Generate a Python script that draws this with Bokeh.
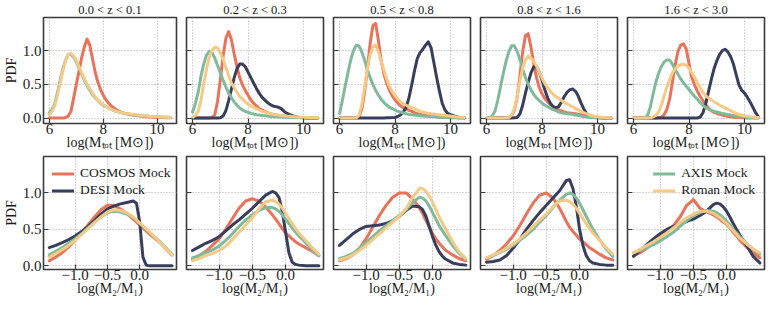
from bokeh.plotting import figure
from bokeh.layouts import row, column
from bokeh.models import (FixedTicker, CustomJSTickFormatter, NumeralTickFormatter,
                          Range1d, Legend, LegendItem)
from bokeh.embed import file_html
from bokeh.resources import INLINE

# ---------------- data ----------------
z_bins = ["0.0 < z < 0.1", "0.2 < z < 0.3", "0.5 < z < 0.8", "0.8 < z < 1.6", "1.6 < z < 3.0"]
series_names = ["COSMOS Mock", "DESI Mock", "AXIS Mock", "Roman Mock"]

mtot_ticks = [6, 8, 10]
ratio_ticks = [-1.0, -0.5, 0.0]
pdf_ticks = [0.0, 0.5, 1.0]

# log(M_tot) grid, 6.0 ... 10.5 in 0.1 steps
mtot_grid = [6.0, 6.1, 6.2, 6.3, 6.4, 6.5, 6.6, 6.7, 6.8, 6.9,
             7.0, 7.1, 7.2, 7.3, 7.4, 7.5, 7.6, 7.7, 7.8, 7.9,
             8.0, 8.1, 8.2, 8.3, 8.4, 8.5, 8.6, 8.7, 8.8, 8.9,
             9.0, 9.1, 9.2, 9.3, 9.4, 9.5, 9.6, 9.7, 9.8, 9.9,
             10.0, 10.1, 10.2, 10.3, 10.4, 10.5]

# log(M2/M1) grid
ratio_grid = [-1.4, -1.3, -1.2, -1.1, -1.0, -0.9, -0.8, -0.7, -0.6, -0.5, -0.4, -0.3,
              -0.2, -0.15, -0.1, -0.05, 0.0, 0.05, 0.1, 0.15, 0.2, 0.3, 0.4, 0.5]

cosmos_mtot = [
    [0, 0, 0, 0, 0, 0, 0.01, 0.03, 0.1, 0.3,
     0.5, 0.7, 0.9, 1.06, 1.17, 1.08, 0.88, 0.68, 0.53, 0.42,
     0.34, 0.27, 0.22, 0.18, 0.15, 0.12, 0.1, 0.08, 0.07, 0.06,
     0.05, 0.045, 0.04, 0.035, 0.03, 0.025, 0.02, 0.018, 0.015, 0.012,
     0.01, 0.01, 0.008, 0.006, 0.005, 0.005],
    [0, 0, 0, 0, 0, 0, 0, 0.01, 0.05, 0.25,
     0.57, 0.92, 1.18, 1.28, 1.16, 0.95, 0.76, 0.6, 0.49, 0.41,
     0.34, 0.27, 0.22, 0.18, 0.14, 0.12, 0.1, 0.08, 0.065, 0.055,
     0.045, 0.04, 0.035, 0.03, 0.025, 0.02, 0.018, 0.015, 0.012, 0.01,
     0.008, 0.007, 0.006, 0.005, 0.005, 0.005],
    [0, 0, 0, 0, 0, 0, 0.005, 0.02, 0.13, 0.38,
     0.72, 1.1, 1.37, 1.4, 1.15, 0.85, 0.65, 0.52, 0.41, 0.33,
     0.27, 0.22, 0.18, 0.155, 0.135, 0.115, 0.1, 0.08, 0.065, 0.055,
     0.045, 0.04, 0.035, 0.03, 0.025, 0.02, 0.016, 0.013, 0.01, 0.008,
     0.006, 0.005, 0.004, 0.003, 0.002, 0.002],
    [0, 0, 0, 0, 0, 0, 0, 0.005, 0.01, 0.03,
     0.12, 0.3, 0.62, 0.98, 1.22, 1.25, 1.05, 0.8, 0.6, 0.45,
     0.36, 0.29, 0.24, 0.2, 0.17, 0.14, 0.12, 0.105, 0.09, 0.08,
     0.075, 0.07, 0.065, 0.058, 0.05, 0.042, 0.035, 0.028, 0.02, 0.015,
     0.01, 0.008, 0.006, 0.004, 0.003, 0.002],
    [0, 0, 0, 0, 0, 0, 0, 0, 0, 0.005,
     0.01, 0.05, 0.13, 0.28, 0.53, 0.79, 0.99, 1.08, 1.1, 1.02,
     0.8, 0.6, 0.49, 0.4, 0.32, 0.26, 0.2, 0.15, 0.11, 0.085,
     0.07, 0.055, 0.045, 0.035, 0.025, 0.018, 0.013, 0.01, 0.008, 0.006,
     0.004, 0.003, 0.002, 0.001, 0.001, 0],
]

desi_mtot = [
    None,
    [0, 0, 0, 0, 0, 0, 0, 0, 0, 0,
     0.005, 0.03, 0.11, 0.26, 0.43, 0.6, 0.73, 0.8, 0.8, 0.76,
     0.68, 0.6, 0.52, 0.44, 0.37, 0.31, 0.27, 0.23, 0.2, 0.18,
     0.17, 0.16, 0.14, 0.1, 0.07, 0.05, 0.035, 0.02, 0.012, 0.008,
     0.005, 0.003, 0.002, 0.001, 0.001, 0],
    [0, 0, 0, 0, 0, 0, 0, 0, 0, 0,
     0, 0, 0, 0, 0, 0.002, 0.003, 0.004, 0.005, 0.007,
     0.01, 0.025, 0.05, 0.09, 0.16, 0.3, 0.49, 0.7, 0.88, 0.97,
     1.02, 1.08, 1.13, 1.04, 0.82, 0.6, 0.4, 0.22, 0.12, 0.07,
     0.05, 0.035, 0.02, 0.012, 0.007, 0.004],
    [0, 0, 0, 0, 0, 0, 0, 0, 0, 0,
     0.005, 0.01, 0.06, 0.19, 0.37, 0.53, 0.67, 0.76, 0.76, 0.68,
     0.56, 0.42, 0.3, 0.22, 0.17, 0.155, 0.17, 0.24, 0.32, 0.38,
     0.42, 0.43, 0.4, 0.33, 0.23, 0.14, 0.07, 0.035, 0.02, 0.012,
     0.008, 0.005, 0.003, 0.002, 0.001, 0],
    [0, 0, 0, 0, 0, 0, 0, 0, 0, 0,
     0, 0, 0, 0, 0, 0, 0, 0, 0, 0,
     0, 0, 0, 0.002, 0.015, 0.08, 0.21, 0.39, 0.57, 0.73,
     0.85, 0.94, 1.0, 1.02, 0.98, 0.91, 0.8, 0.64, 0.49, 0.41,
     0.37, 0.31, 0.24, 0.16, 0.08, 0.02],
]

axis_mtot = [
    [0.08, 0.13, 0.22, 0.38, 0.56, 0.73, 0.86, 0.94, 0.95, 0.9,
     0.83, 0.74, 0.65, 0.56, 0.48, 0.41, 0.35, 0.3, 0.26, 0.22,
     0.19, 0.17, 0.15, 0.13, 0.11, 0.1, 0.09, 0.08, 0.07, 0.06,
     0.055, 0.05, 0.045, 0.04, 0.035, 0.032, 0.03, 0.027, 0.025, 0.022,
     0.02, 0.018, 0.015, 0.013, 0.012, 0.01],
    [0.09, 0.22, 0.38, 0.62, 0.8, 0.93, 0.99, 0.97, 0.89, 0.78,
     0.67, 0.56, 0.46, 0.37, 0.3, 0.24, 0.19, 0.15, 0.12, 0.1,
     0.085, 0.07, 0.06, 0.05, 0.045, 0.04, 0.035, 0.03, 0.025, 0.022,
     0.02, 0.018, 0.016, 0.014, 0.012, 0.011, 0.01, 0.009, 0.008, 0.007,
     0.006, 0.006, 0.005, 0.005, 0.005, 0.005],
    [0.07, 0.26, 0.47, 0.67, 0.86, 1.0, 1.08, 1.07, 0.98, 0.86,
     0.72, 0.6, 0.5, 0.41, 0.34, 0.28, 0.23, 0.19, 0.16, 0.14,
     0.12, 0.1, 0.09, 0.075, 0.065, 0.055, 0.05, 0.045, 0.04, 0.035,
     0.032, 0.029, 0.026, 0.023, 0.02, 0.018, 0.016, 0.014, 0.012, 0.011,
     0.01, 0.009, 0.008, 0.007, 0.006, 0.005],
    [0, 0.005, 0.03, 0.1, 0.26, 0.46, 0.66, 0.84, 0.98, 1.07,
     1.07, 0.99, 0.87, 0.73, 0.6, 0.5, 0.42, 0.35, 0.3, 0.26,
     0.22, 0.19, 0.17, 0.145, 0.125, 0.11, 0.09, 0.08, 0.07, 0.065,
     0.06, 0.055, 0.045, 0.04, 0.03, 0.022, 0.016, 0.012, 0.008, 0.006,
     0.004, 0.003, 0.002, 0.002, 0.001, 0.001],
    [0, 0, 0.002, 0.005, 0.01, 0.04, 0.16, 0.35, 0.53, 0.66,
     0.76, 0.83, 0.86, 0.86, 0.8, 0.72, 0.65, 0.58, 0.52, 0.47,
     0.42, 0.37, 0.32, 0.28, 0.23, 0.19, 0.155, 0.13, 0.115, 0.1,
     0.09, 0.08, 0.07, 0.062, 0.053, 0.045, 0.038, 0.03, 0.025, 0.02,
     0.016, 0.012, 0.01, 0.008, 0.006, 0.005],
]

roman_mtot = [
    [0.05, 0.1, 0.19, 0.34, 0.52, 0.7, 0.85, 0.94, 0.96, 0.92,
     0.85, 0.76, 0.67, 0.58, 0.5, 0.43, 0.37, 0.31, 0.27, 0.23,
     0.2, 0.17, 0.15, 0.13, 0.115, 0.1, 0.09, 0.08, 0.07, 0.065,
     0.06, 0.055, 0.05, 0.045, 0.04, 0.035, 0.03, 0.028, 0.025, 0.022,
     0.02, 0.018, 0.016, 0.014, 0.012, 0.01],
    [0.01, 0.04, 0.1, 0.26, 0.5, 0.72, 0.9, 1.0, 1.05, 1.04,
     0.97, 0.87, 0.75, 0.63, 0.52, 0.45, 0.38, 0.32, 0.28, 0.24,
     0.21, 0.18, 0.16, 0.14, 0.12, 0.1, 0.09, 0.075, 0.065, 0.055,
     0.05, 0.045, 0.04, 0.035, 0.03, 0.027, 0.024, 0.02, 0.018, 0.016,
     0.014, 0.012, 0.01, 0.01, 0.008, 0.008],
    [0, 0, 0, 0, 0, 0, 0.005, 0.04, 0.19, 0.45,
     0.72, 0.93, 1.06, 1.08, 0.99, 0.84, 0.7, 0.58, 0.47, 0.39,
     0.33, 0.28, 0.24, 0.21, 0.19, 0.17, 0.15, 0.135, 0.12, 0.1,
     0.09, 0.08, 0.072, 0.065, 0.06, 0.055, 0.05, 0.045, 0.04, 0.035,
     0.03, 0.025, 0.02, 0.016, 0.013, 0.01],
    [0, 0, 0, 0, 0, 0, 0, 0.005, 0.01, 0.04,
     0.14, 0.32, 0.55, 0.74, 0.86, 0.92, 0.89, 0.84, 0.77, 0.68,
     0.59, 0.51, 0.45, 0.4, 0.35, 0.32, 0.29, 0.26, 0.23, 0.21,
     0.19, 0.165, 0.145, 0.125, 0.1, 0.08, 0.065, 0.05, 0.035, 0.025,
     0.02, 0.015, 0.01, 0.008, 0.006, 0.005],
    [0, 0, 0, 0, 0, 0, 0.005, 0.015, 0.04, 0.09,
     0.19, 0.33, 0.46, 0.57, 0.67, 0.73, 0.77, 0.79, 0.8, 0.78,
     0.74, 0.67, 0.6, 0.52, 0.45, 0.38, 0.33, 0.3, 0.27, 0.24,
     0.22, 0.19, 0.17, 0.15, 0.13, 0.11, 0.09, 0.07, 0.055, 0.042,
     0.033, 0.026, 0.02, 0.015, 0.012, 0.01],
]

cosmos_ratio = [
    [0.07, 0.12, 0.18, 0.26, 0.35, 0.45, 0.56, 0.67, 0.77, 0.83, 0.83, 0.78,
     0.72, 0.68, 0.64, 0.6, 0.56, 0.52, 0.48, 0.44, 0.4, 0.33, 0.24, 0.15],
    [0.09, 0.14, 0.2, 0.28, 0.37, 0.5, 0.65, 0.79, 0.89, 0.92, 0.89, 0.81,
     0.7, 0.64, 0.58, 0.51, 0.45, 0.41, 0.37, 0.33, 0.3, 0.25, 0.2, 0.14],
    [0.07, 0.1, 0.15, 0.24, 0.37, 0.53, 0.69, 0.83, 0.94, 1.0, 1.0, 0.92,
     0.8, 0.72, 0.62, 0.53, 0.44, 0.37, 0.31, 0.26, 0.21, 0.15, 0.1, 0.07],
    [0.09, 0.14, 0.21, 0.3, 0.41, 0.55, 0.71, 0.86, 0.97, 1.0, 0.93, 0.79,
     0.61, 0.53, 0.47, 0.42, 0.37, 0.33, 0.29, 0.25, 0.22, 0.16, 0.11, 0.08],
    [0.14, 0.18, 0.24, 0.31, 0.39, 0.46, 0.55, 0.67, 0.83, 0.91, 0.79, 0.74,
     0.7, 0.67, 0.64, 0.6, 0.57, 0.52, 0.46, 0.41, 0.35, 0.26, 0.18, 0.11],
]

desi_ratio = [
    [0.25, 0.28, 0.32, 0.36, 0.41, 0.47, 0.54, 0.62, 0.71, 0.78, 0.82, 0.85,
     0.87, 0.88, 0.89, 0.86, 0.6, 0.12, 0.01, 0.0, 0.0, 0.0, 0.0, 0.0],
    [0.21, 0.26, 0.31, 0.35, 0.4, 0.48, 0.56, 0.63, 0.71, 0.79, 0.88, 0.97,
     1.02, 1.0, 0.94, 0.75, 0.46, 0.18, 0.05, 0.02, 0.01, 0.0, 0.0, 0.0],
    [0.28, 0.36, 0.44, 0.5, 0.54, 0.55, 0.56, 0.58, 0.62, 0.68, 0.76, 0.82,
     0.81, 0.77, 0.68, 0.54, 0.4, 0.28, 0.19, 0.13, 0.09, 0.04, 0.02, 0.01],
    [0.05, 0.06, 0.08, 0.14, 0.24, 0.36, 0.5, 0.62, 0.73, 0.83, 0.93, 1.03,
     1.17, 1.18, 1.06, 0.82, 0.5, 0.28, 0.14, 0.07, 0.04, 0.02, 0.01, 0.01],
    [0.13, 0.21, 0.29, 0.37, 0.44, 0.5, 0.54, 0.57, 0.61, 0.64, 0.69, 0.75,
     0.84, 0.86, 0.85, 0.81, 0.75, 0.67, 0.58, 0.5, 0.42, 0.28, 0.13, 0.04],
]

axis_ratio = [
    [0.15, 0.2, 0.25, 0.31, 0.37, 0.44, 0.52, 0.6, 0.67, 0.73, 0.75, 0.74,
     0.71, 0.69, 0.66, 0.62, 0.58, 0.54, 0.5, 0.46, 0.42, 0.34, 0.25, 0.16],
    [0.11, 0.14, 0.18, 0.22, 0.27, 0.35, 0.44, 0.54, 0.63, 0.7, 0.76, 0.8,
     0.8, 0.78, 0.75, 0.7, 0.64, 0.58, 0.52, 0.46, 0.41, 0.32, 0.22, 0.14],
    [0.1, 0.13, 0.17, 0.24, 0.32, 0.4, 0.48, 0.55, 0.62, 0.69, 0.77, 0.87,
     0.94, 0.93, 0.89, 0.82, 0.73, 0.64, 0.55, 0.48, 0.41, 0.28, 0.17, 0.09],
    [0.11, 0.14, 0.18, 0.23, 0.28, 0.35, 0.42, 0.5, 0.6, 0.69, 0.8, 0.9,
     0.98, 1.0, 0.98, 0.93, 0.86, 0.77, 0.68, 0.59, 0.5, 0.36, 0.23, 0.13],
    [0.18, 0.21, 0.25, 0.29, 0.34, 0.4, 0.46, 0.54, 0.62, 0.69, 0.73, 0.76,
     0.75, 0.73, 0.7, 0.66, 0.61, 0.56, 0.5, 0.45, 0.4, 0.31, 0.23, 0.16],
]

roman_ratio = [
    [0.12, 0.17, 0.22, 0.28, 0.35, 0.43, 0.51, 0.59, 0.67, 0.74, 0.77, 0.76,
     0.73, 0.7, 0.67, 0.63, 0.59, 0.55, 0.51, 0.47, 0.42, 0.33, 0.24, 0.15],
    [0.07, 0.1, 0.14, 0.17, 0.21, 0.27, 0.36, 0.46, 0.56, 0.66, 0.78, 0.88,
     0.9, 0.88, 0.85, 0.79, 0.72, 0.65, 0.58, 0.51, 0.45, 0.35, 0.25, 0.16],
    [0.08, 0.11, 0.15, 0.21, 0.28, 0.36, 0.44, 0.52, 0.6, 0.68, 0.78, 0.94,
     1.06, 1.06, 1.02, 0.96, 0.87, 0.77, 0.67, 0.58, 0.5, 0.33, 0.19, 0.1],
    [0.11, 0.15, 0.19, 0.24, 0.3, 0.37, 0.45, 0.54, 0.63, 0.71, 0.81, 0.89,
     0.9, 0.88, 0.85, 0.79, 0.72, 0.65, 0.58, 0.51, 0.45, 0.35, 0.25, 0.16],
    [0.18, 0.23, 0.28, 0.33, 0.39, 0.45, 0.52, 0.59, 0.66, 0.71, 0.75, 0.75,
     0.72, 0.69, 0.66, 0.62, 0.58, 0.53, 0.48, 0.43, 0.38, 0.3, 0.23, 0.18],
]

# ---------------- style ----------------
FONT = "Liberation Serif"
COLORS = ["#E8735A", "#383E5C", "#80BA9B", "#F5CA87"]
TEXT_COLOR = "#1a1a1a"
FRAME_COLOR = "#3a3a3a"

mtot_data = [cosmos_mtot, desi_mtot, axis_mtot, roman_mtot]
ratio_data = [cosmos_ratio, desi_ratio, axis_ratio, roman_ratio]

FRAME_W = 137
LEFT_FIRST = 39
LEFT_OTHER = 6
RIGHT_BORDER = 4
TOP_TITLE = 14
TOP_BOTTOMROW = 3
BOTTOM_AXIS = 30
TOP_H = 153
BOTTOM_H = 146


def style(p, col, xticks, xfmt, xlabel):
    p.outline_line_color = FRAME_COLOR
    p.outline_line_width = 1.6
    p.background_fill_color = "white"
    p.border_fill_color = "white"
    for ax in (p.xaxis[0], p.yaxis[0]):
        ax.axis_line_color = None
        ax.major_tick_in = 5
        ax.major_tick_out = 0
        ax.major_tick_line_color = FRAME_COLOR
        ax.major_tick_line_width = 1.2
        ax.minor_tick_line_color = None
        ax.major_label_text_font = FONT
        ax.major_label_text_font_size = "15px"
        ax.major_label_text_color = TEXT_COLOR
        ax.axis_label_text_font = FONT
        ax.axis_label_text_font_size = "14px"
        ax.axis_label_text_font_style = "normal"
        ax.axis_label_text_color = TEXT_COLOR
    p.xaxis[0].ticker = FixedTicker(ticks=xticks)
    p.xaxis[0].formatter = xfmt
    p.xaxis[0].axis_label = xlabel
    p.xaxis[0].major_label_standoff = 0
    p.xaxis[0].axis_label_standoff = -2
    p.yaxis[0].ticker = FixedTicker(ticks=pdf_ticks)
    if col == 0:
        p.yaxis[0].formatter = NumeralTickFormatter(format="0.0")
        p.yaxis[0].axis_label = "PDF"
        p.yaxis[0].major_label_standoff = 2
        p.yaxis[0].axis_label_standoff = 1
    else:
        p.yaxis[0].formatter = CustomJSTickFormatter(code="return ''")
        p.yaxis[0].major_label_standoff = 0
        p.yaxis[0].axis_label_standoff = 0
    for g in (p.xgrid[0], p.ygrid[0]):
        g.grid_line_color = "#a8a8a8"
        g.grid_line_dash = "1 2"
        g.grid_line_width = 1


def make_panel(col, top):
    left = LEFT_FIRST if col == 0 else LEFT_OTHER
    width = left + FRAME_W + RIGHT_BORDER
    if top:
        height = TOP_H
        xr, yr = Range1d(5.78, 10.72), Range1d(-0.08, 1.49)
    else:
        height = BOTTOM_H
        xr, yr = Range1d(-1.49, 0.57), Range1d(-0.05, 1.5)
    p = figure(width=width, height=height, x_range=xr, y_range=yr,
               output_backend="svg", toolbar_location=None,
               min_border_left=left, min_border_right=RIGHT_BORDER,
               min_border_top=TOP_TITLE if top else TOP_BOTTOMROW,
               min_border_bottom=BOTTOM_AXIS)
    if top:
        p.title.text = z_bins[col]
        p.title.align = "center"
        p.title.text_font = FONT
        p.title.text_font_size = "12.5px"
        p.title.text_font_style = "normal"
        p.title.text_color = TEXT_COLOR
        p.title.standoff = 1
        style(p, col, mtot_ticks, NumeralTickFormatter(format="0"),
              "log(M\u209c\u2092\u209c [M\u2299])")
        xs, data = mtot_grid, mtot_data
    else:
        fmt = CustomJSTickFormatter(
            code="return (tick < 0 ? '\\u2212' : '') + Math.abs(tick).toFixed(1);")
        style(p, col, ratio_ticks, fmt, "log(M\u2082/M\u2081)")
        xs, data = ratio_grid, ratio_data
    renderers = []
    for s in range(4):
        ys = data[s][col]
        if ys is None:
            renderers.append(None)
            continue
        r = p.line(xs, ys, line_color=COLORS[s], line_width=3,
                   line_join="round", line_cap="round")
        renderers.append(r)
    if not top and col in (0, 4):
        idx = [0, 1] if col == 0 else [2, 3]
        items = [LegendItem(label=series_names[i], renderers=[renderers[i]]) for i in idx]
        leg = Legend(items=items, location="top_left" if col == 0 else "top_right")
        leg.background_fill_alpha = 0
        leg.border_line_alpha = 0
        leg.label_text_font = FONT
        leg.label_text_font_size = "13.5px"
        leg.label_text_color = TEXT_COLOR
        leg.glyph_width = 22
        leg.glyph_height = 15
        leg.label_height = 15
        leg.label_standoff = 6
        leg.spacing = 1
        leg.padding = 3
        leg.margin = 6
        p.add_layout(leg)
    return p


top_row = row(*[make_panel(c, True) for c in range(5)])
bottom_row = row(*[make_panel(c, False) for c in range(5)])
layout = column(top_row, bottom_row)

open("out.html", "w").write(file_html(layout, INLINE))
